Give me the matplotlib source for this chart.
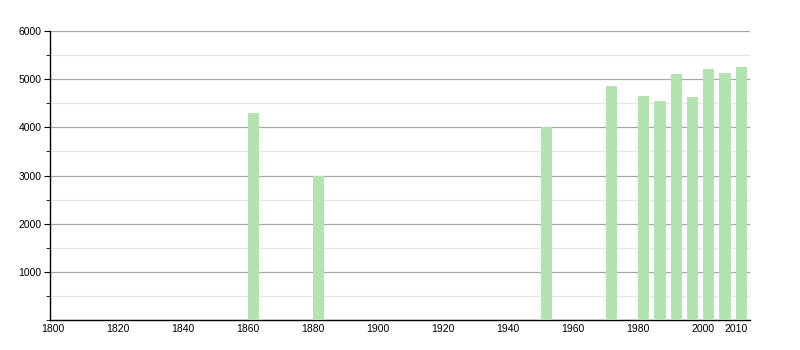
import matplotlib
matplotlib.use('Agg')
import matplotlib.pyplot as plt
from matplotlib.ticker import MultipleLocator

# population by census year
years = [1860, 1880, 1950, 1970, 1980, 1985, 1990, 1995, 2000, 2005, 2010]
population = [4290, 3000, 4000, 4860, 4650, 4550, 5100, 4630, 5210, 5130, 5250]
x_ticks = [1800, 1820, 1840, 1860, 1880, 1900, 1920, 1940, 1960, 1980, 2000, 2010]
y_ticks = [1000, 2000, 3000, 4000, 5000, 6000]

plt.rcParams['font.family'] = ['Liberation Sans', 'DejaVu Sans']

fig = plt.figure(figsize=(8, 3.5), dpi=100)
ax = fig.add_axes([0.0625, 0.0857, 0.875, 0.8257])

ax.bar(years, population, width=3.4, align='edge', color='#b3e3b1', zorder=3)

ax.set_xlim(1799.0, 2014.4)
ax.set_ylim(0, 6000)
ax.set_xticks(x_ticks)
ax.set_yticks(y_ticks)
ax.yaxis.set_minor_locator(MultipleLocator(500))

ax.grid(axis='y', which='major', color='#a8a8a8', linewidth=0.9, zorder=0)
ax.grid(axis='y', which='minor', color='#e6e6e6', linewidth=0.9, zorder=0)

for side in ['top', 'right']:
    ax.spines[side].set_visible(False)
ax.spines['left'].set_linewidth(1.0)
ax.spines['bottom'].set_linewidth(1.0)

ax.tick_params(axis='x', length=0, labelsize=7.5, pad=3)
ax.tick_params(axis='y', which='major', length=4, labelsize=7.5, pad=2)
ax.tick_params(axis='y', which='minor', length=3)

fig.savefig('out.png', dpi=100)
